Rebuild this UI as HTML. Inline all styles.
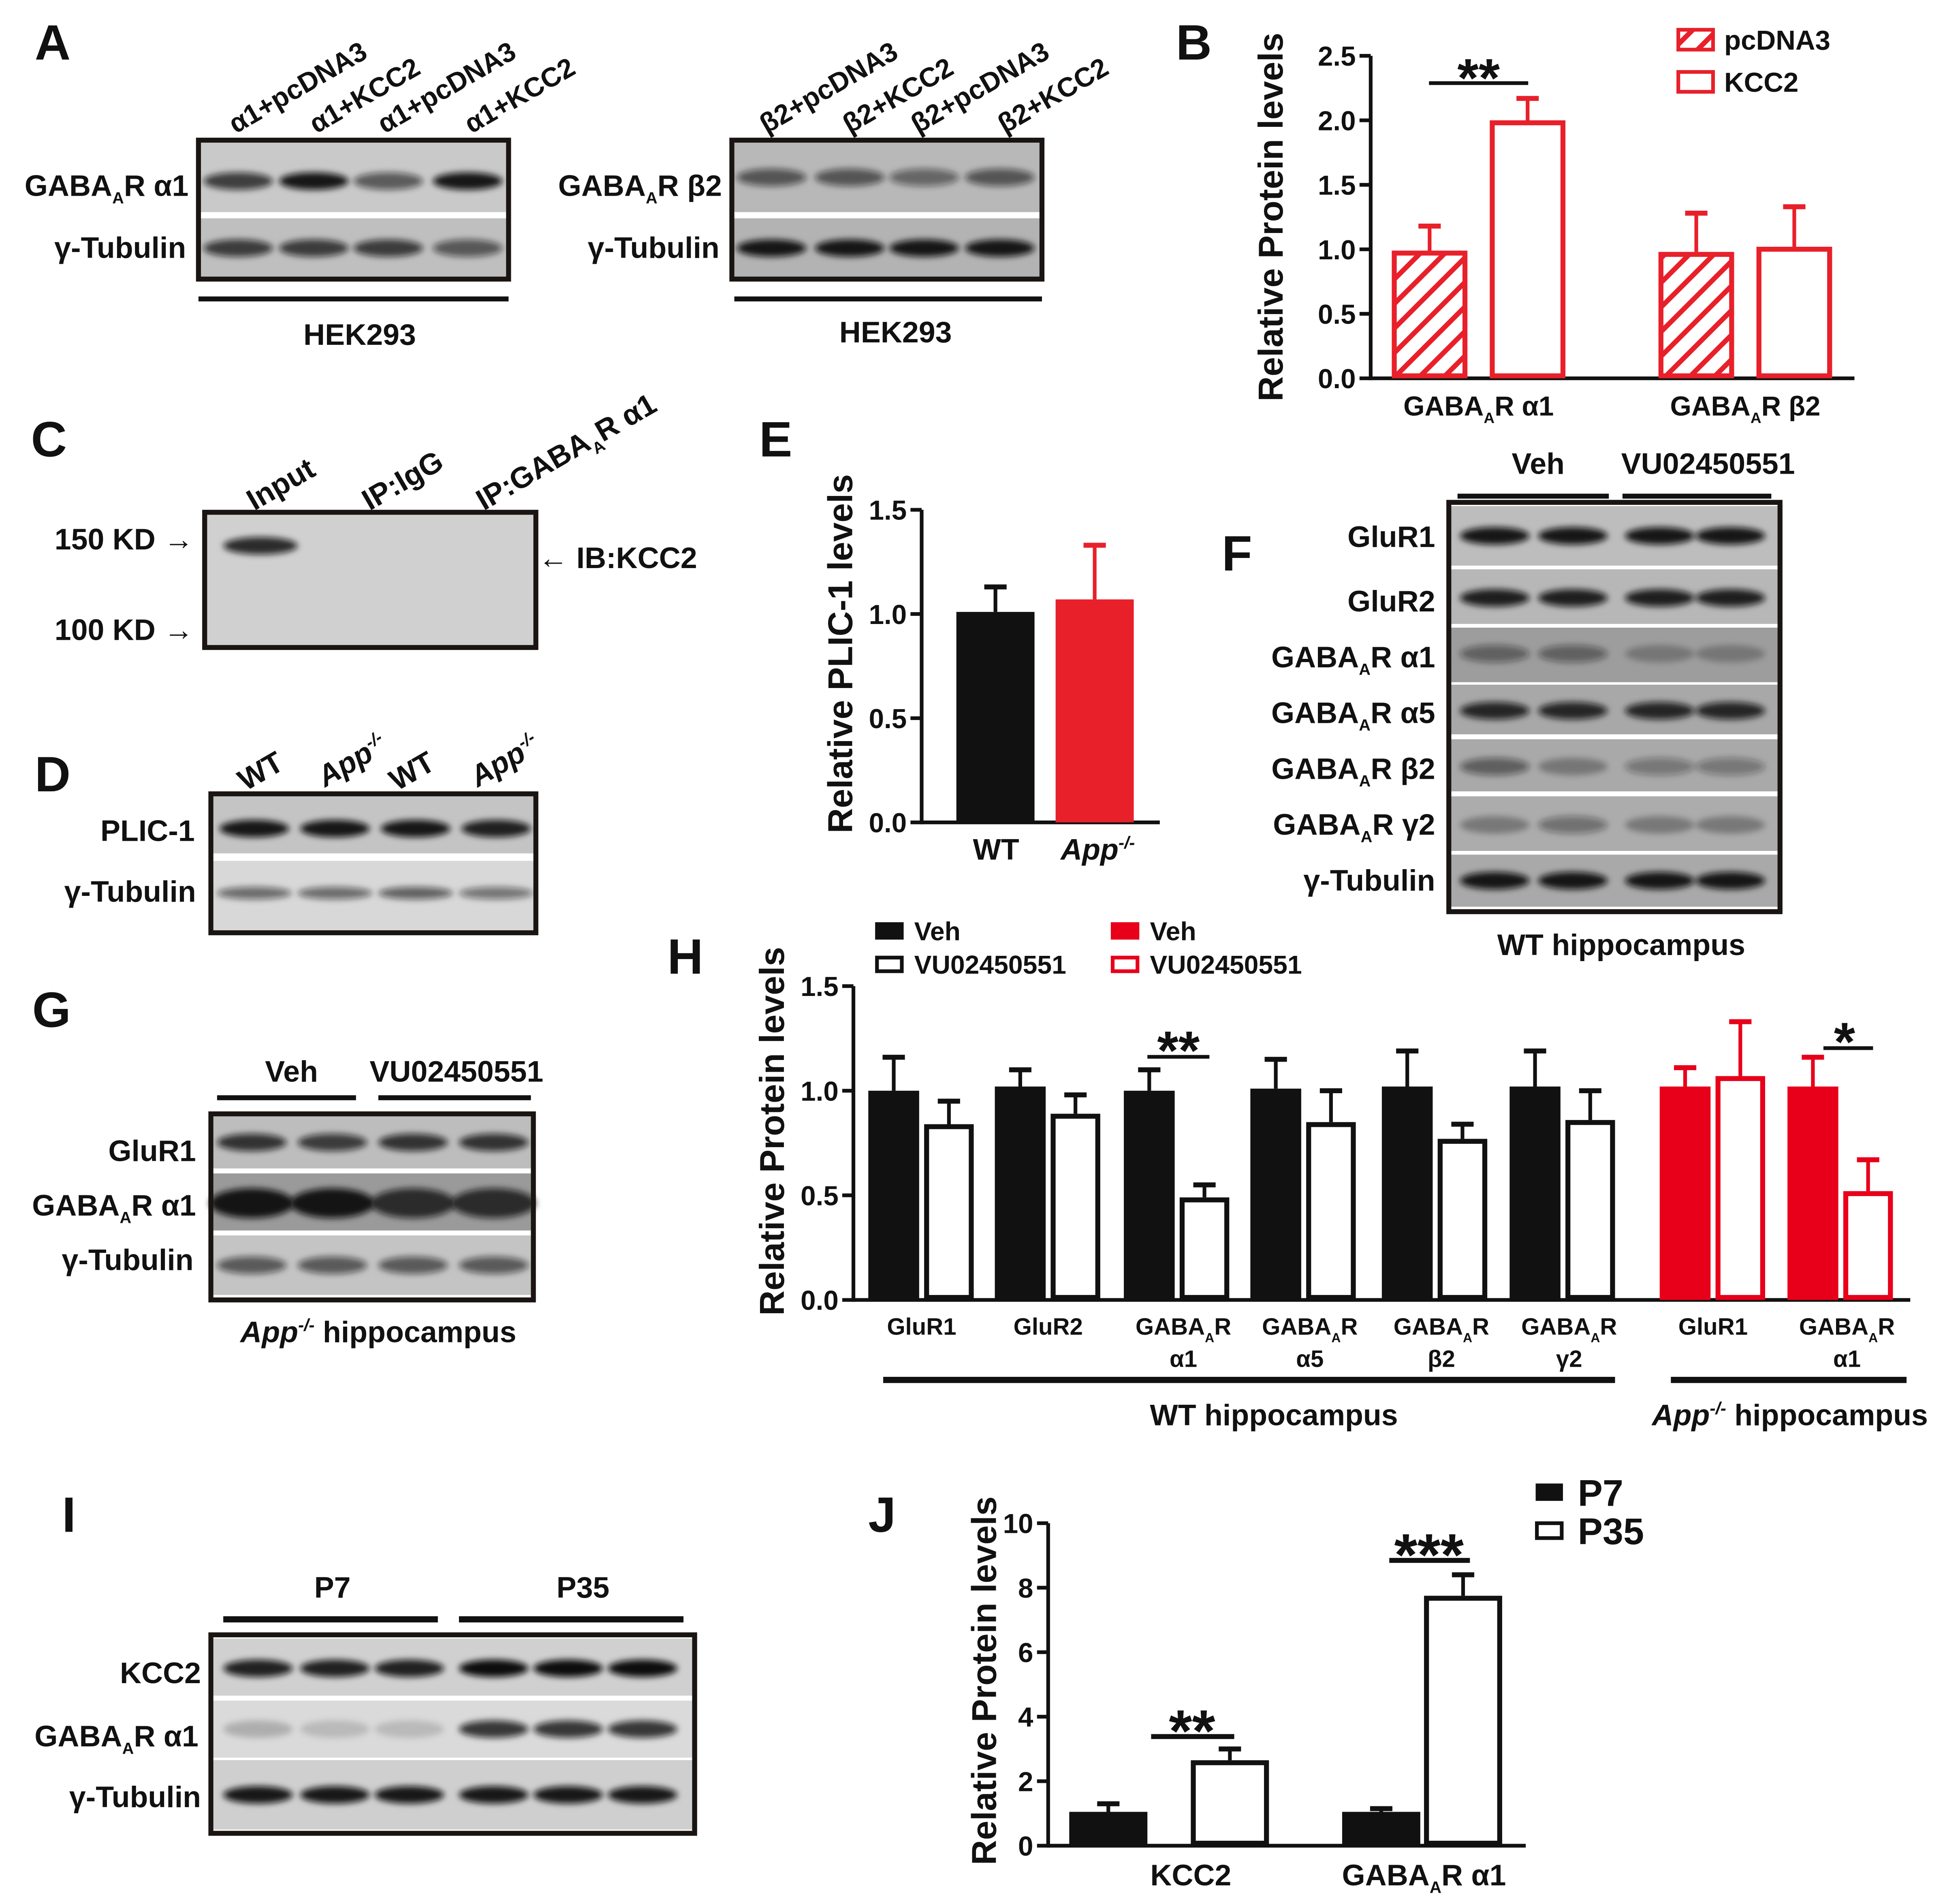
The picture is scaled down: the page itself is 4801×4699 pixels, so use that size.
<!DOCTYPE html>
<html><head><meta charset="utf-8"><style>
html,body{margin:0;padding:0;background:#fff;}
svg{display:block;}
text{font-family:"Liberation Sans",sans-serif;font-weight:bold;fill:#111;}
</style></head><body>
<svg id="fig" xmlns="http://www.w3.org/2000/svg" width="4801" height="4699" viewBox="0 0 1568 1535" preserveAspectRatio="none">
<defs>
<filter id="blur" x="-20%" y="-100%" width="140%" height="300%"><feGaussianBlur stdDeviation="2.5"/></filter>
<pattern id="hatch" patternUnits="userSpaceOnUse" width="14" height="14" patternTransform="rotate(45)"><rect width="14" height="14" fill="#fff"/><rect x="0" y="0" width="4" height="14" fill="#e8202a"/></pattern>
</defs>
<g style="font-size:40px">
<text x="28" y="48" font-size="40">A</text>
<text x="948" y="48" font-size="40">B</text>
<text x="25" y="368" font-size="40">C</text>
<text x="28" y="638" font-size="40">D</text>
<text x="612" y="368" font-size="40">E</text>
<text x="985" y="460" font-size="40">F</text>
<text x="26" y="828" font-size="40">G</text>
<text x="538" y="785" font-size="40">H</text>
<text x="50" y="1235" font-size="40">I</text>
<text x="700" y="1235" font-size="40">J</text>
</g>
<g id="blots"></g>
<g id="static" font-size="24">
<g font-size="22">
<text transform="translate(190,108) rotate(-30)">α1+pcDNA3</text>
<text transform="translate(255,108) rotate(-30)">α1+KCC2</text>
<text transform="translate(310,108) rotate(-30)">α1+pcDNA3</text>
<text transform="translate(380,108) rotate(-30)">α1+KCC2</text>
<text transform="translate(618,108) rotate(-30)">β2+pcDNA3</text>
<text transform="translate(685,108) rotate(-30)">β2+KCC2</text>
<text transform="translate(740,108) rotate(-30)">β2+pcDNA3</text>
<text transform="translate(810,108) rotate(-30)">β2+KCC2</text>
</g>
<text x="152" y="158" text-anchor="end">GABA<tspan font-size="13" dy="6">A</tspan><tspan dy="-6">R α1</tspan></text>
<text x="150" y="208" text-anchor="end">γ-Tubulin</text>
<text x="582" y="158" text-anchor="end">GABA<tspan font-size="13" dy="6">A</tspan><tspan dy="-6">R β2</tspan></text>
<text x="580" y="208" text-anchor="end">γ-Tubulin</text>
<rect x="160" y="239" width="250" height="4" fill="#111"/>
<rect x="592" y="239" width="248" height="4" fill="#111"/>
<text x="290" y="278" text-anchor="middle">HEK293</text>
<text x="722" y="276" text-anchor="middle">HEK293</text>
<text transform="translate(205,412) rotate(-30)">Input</text>
<text transform="translate(298,412) rotate(-30)">IP:IgG</text>
<text transform="translate(390,412) rotate(-30)">IP:GABA<tspan font-size="13" dy="6">A</tspan><tspan dy="-6">R α1</tspan></text>
<text x="44" y="443">150 KD →</text>
<text x="44" y="516">100 KD →</text>
<text x="434" y="458">← IB:KCC2</text>
<text transform="translate(198,638) rotate(-30)">WT</text>
<text transform="translate(262,635) rotate(-30)" font-style="italic">App<tspan font-size="14" dy="-9">-/-</tspan></text>
<text transform="translate(320,638) rotate(-30)">WT</text>
<text transform="translate(385,635) rotate(-30)" font-style="italic">App<tspan font-size="14" dy="-9">-/-</tspan></text>
<text x="157" y="678" text-anchor="end">PLIC-1</text>
<text x="158" y="727" text-anchor="end">γ-Tubulin</text>
<rect x="1175" y="398" width="122" height="4" fill="#111"/>
<rect x="1308" y="398" width="120" height="4" fill="#111"/>
<text x="1240" y="382" text-anchor="middle">Veh</text>
<text x="1377" y="382" text-anchor="middle">VU02450551</text>
<text x="1157" y="441" text-anchor="end">GluR1</text>
<text x="1157" y="493" text-anchor="end">GluR2</text>
<text x="1157" y="538" text-anchor="end">GABA<tspan font-size="13" dy="6">A</tspan><tspan dy="-6">R α1</tspan></text>
<text x="1157" y="583" text-anchor="end">GABA<tspan font-size="13" dy="6">A</tspan><tspan dy="-6">R α5</tspan></text>
<text x="1157" y="628" text-anchor="end">GABA<tspan font-size="13" dy="6">A</tspan><tspan dy="-6">R β2</tspan></text>
<text x="1157" y="673" text-anchor="end">GABA<tspan font-size="13" dy="6">A</tspan><tspan dy="-6">R γ2</tspan></text>
<text x="1157" y="718" text-anchor="end">γ-Tubulin</text>
<text x="1307" y="770" text-anchor="middle">WT hippocampus</text>
<rect x="175" y="883" width="112" height="4" fill="#111"/>
<rect x="305" y="883" width="123" height="4" fill="#111"/>
<text x="235" y="872" text-anchor="middle">Veh</text>
<text x="368" y="872" text-anchor="middle">VU02450551</text>
<text x="158" y="936" text-anchor="end">GluR1</text>
<text x="158" y="980" text-anchor="end">GABA<tspan font-size="13" dy="6">A</tspan><tspan dy="-6">R α1</tspan></text>
<text x="156" y="1024" text-anchor="end">γ-Tubulin</text>
<text x="305" y="1082" text-anchor="middle"><tspan font-style="italic">App</tspan><tspan font-size="14" dy="-9" font-style="italic">-/-</tspan><tspan dy="9"> hippocampus</tspan></text>
<rect x="180" y="1303" width="173" height="5" fill="#111"/>
<rect x="370" y="1303" width="181" height="5" fill="#111"/>
<text x="268" y="1288" text-anchor="middle">P7</text>
<text x="470" y="1288" text-anchor="middle">P35</text>
<text x="162" y="1357" text-anchor="end">KCC2</text>
<text x="160" y="1408" text-anchor="end">GABA<tspan font-size="13" dy="6">A</tspan><tspan dy="-6">R α1</tspan></text>
<text x="162" y="1457" text-anchor="end">γ-Tubulin</text>
</g>
<g id="charts"></g>
</svg>
<script>
const NS="http://www.w3.org/2000/svg";
function mk(tag,attrs,parent){const e=document.createElementNS(NS,tag);for(const k in attrs)e.setAttribute(k,attrs[k]);parent.appendChild(e);return e;}
// ---------- Panel B data ----------
const bCategories=["GABAAR α1","GABAAR β2"];
const bSeries=["pcDNA3","KCC2"];
const bPcdna=[0.99,0.98];
const bPcdnaErr=[0.19,0.30];
const bKcc2=[2.0,1.02];
const bKcc2Err=[0.17,0.31];
const bTicks=["0.0","0.5","1.0","1.5","2.0","2.5"];
// ---------- Panel E data ----------
const eCategories=["WT","App-/-"];
const eValues=[1.01,1.07];
const eErr=[0.12,0.26];
const eTicks=["0.0","0.5","1.0","1.5"];
// ---------- Panel H data ----------
const hCategories=["GluR1","GluR2","GABAAR α1","GABAAR α5","GABAAR β2","GABAAR γ2","GluR1","GABAAR α1"];
const hGroup=["WT","WT","WT","WT","WT","WT","App","App"];
const hVeh=[1.0,1.02,1.0,1.01,1.02,1.02,1.02,1.02];
const hVehErr=[0.16,0.08,0.10,0.14,0.17,0.17,0.09,0.14];
const hVU=[0.84,0.89,0.49,0.85,0.77,0.86,1.07,0.52];
const hVUErr=[0.11,0.09,0.06,0.15,0.07,0.14,0.26,0.15];
const hTicks=["0.0","0.5","1.0","1.5"];
// ---------- Panel J data ----------
const jCategories=["KCC2","GABAAR α1"];
const jP7=[1.05,1.05];
const jP7Err=[0.25,0.10];
const jP35=[2.65,7.75];
const jP35Err=[0.35,0.65];
const jTicks=["0","2","4","6","8","10"];

const charts=document.getElementById('charts');
const blots=document.getElementById('blots');

function blot(name,x,y,w,h,rows,lanes,border){
  const g=mk('g',{},blots);
  
  
  mk('rect',{x:x,y:y,width:w,height:h,fill:'#fff'},g);
  rows.forEach(r=>{
    const rr=mk('rect',{x:x,y:r[0],width:w,height:r[1],fill:r[2]},g);
    
    
    lanes.forEach((lx,i)=>{
      const d=r[4][i]; if(d<=0) return;
      const b=mk('ellipse',{cx:lx,cy:r[3],rx:r[5]||28,ry:r[6]||7,fill:'#111','fill-opacity':d,filter:'url(#blur)'},g);
      
      
    });
  });
  mk('rect',{x:x,y:y,width:w,height:h,fill:'none',stroke:'#1a1412','stroke-width':border||4},g);
}
blot('blot-a-alpha1',160,113,250,112,[[115,56,'#c9c9c9',146,[0.75,0.95,0.6,0.95]],[176,48,'#bfbfbf',200,[0.75,0.75,0.75,0.6]]],[192,253,313,377]);
blot('blot-a-beta2',590,113,250,112,[[115,56,'#b8b8b8',143,[0.6,0.6,0.5,0.6]],[176,48,'#b3b3b3',200,[0.95,0.95,0.95,0.95]]],[622,685,745,806]);
blot('blot-c-ip',165,413,267,109,[[415,105,'#d0d0d0',440,[0.85,0,0],30,7]],[210,300,390]);
blot('blot-d-plic1',170,640,262,112,[[642,46,'#c4c4c4',668,[0.95,0.95,0.95,0.9]],[694,56,'#d8d8d8',720,[0.55,0.55,0.6,0.5],30,5]],[205,270,335,400]);
blot('blot-f-wt',1168,405,267,330,[
  [408,48,'#bdbdbd',432,[0.95,0.95,0.95,0.95]],
  [459,44,'#b7b7b7',482,[0.9,0.9,0.9,0.9]],
  [506,44,'#9d9d9d',527,[0.45,0.45,0.25,0.25]],
  [552,40,'#a8a8a8',573,[0.85,0.85,0.85,0.85]],
  [596,42,'#a9a9a9',618,[0.5,0.3,0.35,0.35]],
  [642,44,'#acacac',665,[0.3,0.4,0.3,0.3]],
  [689,42,'#a9a9a9',710,[0.95,0.95,0.95,0.95]]],[1205,1268,1338,1395]);
blot('blot-g-app',170,898,260,150,[[900,42,'#bdbdbd',921,[0.8,0.75,0.8,0.8]],[946,46,'#9a9a9a',970,[0.95,0.95,0.8,0.8],34,12],[996,48,'#c4c4c4',1020,[0.6,0.6,0.6,0.6]]],[203,268,333,398]);
blot('blot-i-dev',170,1318,390,160,[[1321,46,'#d0d0d0',1345,[0.9,0.9,0.9,1,1,1]],[1371,46,'#dadada',1394,[0.2,0.15,0.15,0.8,0.8,0.8]],[1419,56,'#cfcfcf',1447,[0.95,0.95,0.95,0.95,0.95,0.95]]],[208,270,330,398,458,518]);

function yAxis(name,x,y0,y1,ticks,max,fs){
  const g=mk('g',{},charts);
  
  
  mk('line',{x1:x,y1:y0+1.5,x2:x,y2:y1,stroke:'#111','stroke-width':3},g);
  ticks.forEach(t=>{
    const v=parseFloat(t); const yy=y0-(y0-y1)*v/max;
    mk('line',{x1:x-9,y1:yy,x2:x,y2:yy,stroke:'#111','stroke-width':3},g);
    const tx=mk('text',{x:x-12,y:yy+8,'text-anchor':'end','font-size':fs||22},g);
    tx.textContent=t;
    
    
  });
}
function bar(name,x,w,v,err,y0,y1,max,fill,stroke,sw){
  const sc=(y0-y1)/max;
  const top=y0-v*sc, et=y0-(v+err)*sc;
  mk('line',{x1:x+w/2,y1:top,x2:x+w/2,y2:et,stroke:stroke,'stroke-width':3},charts);
  mk('line',{x1:x+w/2-9,y1:et,x2:x+w/2+9,y2:et,stroke:stroke,'stroke-width':4},charts);
  const r=mk('rect',{x:x+sw/2,y:top+sw/2,width:w-sw,height:Math.max(0,v*sc-sw),fill:fill,stroke:stroke,'stroke-width':sw},charts);
  if(sw===0){r.setAttribute('x',x);r.setAttribute('y',top);r.setAttribute('width',w);r.setAttribute('height',v*sc);}
  
  
}
function gaba(parent,x,y,suffix,fs,anchor){
  const t=mk('text',{x:x,y:y,'text-anchor':anchor||'middle','font-size':fs},parent);
  t.innerHTML='GABA<tspan font-size="'+(fs*0.55)+'" dy="6">A</tspan><tspan dy="-6">R'+suffix+'</tspan>';
  return t;
}

// ---------- Panel B ----------
{
  const y0=305,y1=45,max=2.5;
  yAxis('b-y-axis',1105,y0,y1,bTicks,max,22);
  mk('line',{x1:1105,y1:y0,x2:1495,y2:y0,stroke:'#111','stroke-width':3},charts);
  const cx=[1192,1407];
  bCategories.forEach((c,i)=>{
    bar('b-bar-pcdna3-'+i,cx[i]-70,61,bPcdna[i],bPcdnaErr[i],y0,y1,max,'url(#hatch)','#e8202a',4);
    bar('b-bar-kcc2-'+i,cx[i]+9,61,bKcc2[i],bKcc2Err[i],y0,y1,max,'#fff','#e8202a',4);
    const t=gaba(charts,cx[i],335,c.endsWith('α1')?' α1':' β2',22);
    
    
  });
  const yt=mk('text',{transform:'translate(1034,175) rotate(-90)','text-anchor':'middle','font-size':28},charts);
  yt.textContent='Relative Protein levels';
  
  
  mk('line',{x1:1152,y1:67,x2:1232,y2:67,stroke:'#111','stroke-width':3},charts);
  const st=mk('text',{x:1192,y:78,'text-anchor':'middle','font-size':44},charts);st.textContent='**';
  const l1=mk('rect',{x:1353,y:24,width:28,height:16,fill:'url(#hatch)',stroke:'#e8202a','stroke-width':3},charts);
  
  
  const l2=mk('rect',{x:1353,y:58,width:28,height:16,fill:'#fff',stroke:'#e8202a','stroke-width':3},charts);
  
  
  let t=mk('text',{x:1390,y:40,'font-size':22},charts);t.textContent=bSeries[0];
  t=mk('text',{x:1390,y:74,'font-size':22},charts);t.textContent=bSeries[1];
}
// ---------- Panel E ----------
{
  const y0=663,y1=411,max=1.5;
  yAxis('e-y-axis',743,y0,y1,eTicks,max,22);
  mk('line',{x1:743,y1:y0,x2:935,y2:y0,stroke:'#111','stroke-width':3},charts);
  const cols=['#111','#e8202a'],cx=[803,883];
  eCategories.forEach((c,i)=>{
    bar('e-bar-'+i,cx[i]-32,63,eValues[i],eErr[i],y0,y1,max,cols[i],cols[i],0);
  });
  let t=mk('text',{x:803,y:693,'text-anchor':'middle','font-size':24},charts);t.textContent=eCategories[0];
  t=mk('text',{x:885,y:693,'text-anchor':'middle','font-size':24,'font-style':'italic'},charts);t.innerHTML='App<tspan font-size="14" dy="-9">-/-</tspan>';
  const yt=mk('text',{transform:'translate(687,527) rotate(-90)','text-anchor':'middle','font-size':28},charts);
  yt.textContent='Relative PLIC-1 levels';
  
  
}
// ---------- Panel H ----------
{
  const y0=1048,y1=795,max=1.5;
  yAxis('h-y-axis',688,y0,y1,hTicks,max,22);
  mk('line',{x1:688,y1:y0,x2:1540,y2:y0,stroke:'#111','stroke-width':3},charts);
  const xs=[700,802,906,1008,1114,1217,1338,1441];
  hCategories.forEach((c,i)=>{
    const col=hGroup[i]==='WT'?'#111':'#e8001a';
    bar('h-bar-veh-'+i,xs[i],41,hVeh[i],hVehErr[i],y0,y1,max,col,col,0);
    bar('h-bar-vu-'+i,xs[i]+45,40,hVU[i],hVUErr[i],y0,y1,max,'#fff',col,4);
    const cx=xs[i]+43;
    if(c.startsWith('GABA')){
      const t=gaba(charts,cx+5,1076,'',19);
      
      
      const s=mk('text',{x:cx+5,y:1102,'text-anchor':'middle','font-size':19},charts);s.textContent=c.split(' ')[1];
    } else {
      const t=mk('text',{x:cx,y:1076,'text-anchor':'middle','font-size':19},charts);t.textContent=c;
      
      
    }
  });
  mk('rect',{x:712,y:1110,width:590,height:5,fill:'#111'},charts);
  mk('rect',{x:1347,y:1110,width:190,height:5,fill:'#111'},charts);
  let t=mk('text',{x:1027,y:1149,'text-anchor':'middle','font-size':24},charts);t.textContent='WT hippocampus';
  t=mk('text',{x:1443,y:1149,'text-anchor':'middle','font-size':24},charts);t.innerHTML='<tspan font-style="italic">App</tspan><tspan font-size="14" dy="-9" font-style="italic">-/-</tspan><tspan dy="9"> hippocampus</tspan>';
  const yt=mk('text',{transform:'translate(632,912) rotate(-90)','text-anchor':'middle','font-size':28},charts);
  yt.textContent='Relative Protein levels';
  
  
  mk('line',{x1:925,y1:852,x2:975,y2:852,stroke:'#111','stroke-width':3},charts);
  t=mk('text',{x:950,y:862,'text-anchor':'middle','font-size':44},charts);t.textContent='**';
  mk('line',{x1:1470,y1:845,x2:1510,y2:845,stroke:'#111','stroke-width':3},charts);
  t=mk('text',{x:1487,y:855,'text-anchor':'middle','font-size':44},charts);t.textContent='*';
  const leg=[[705,743,'#111','#111','Veh'],[705,770,'#fff','#111','VU02450551'],[895,743,'#e8001a','#e8001a','Veh'],[895,770,'#fff','#e8001a','VU02450551']];
  leg.forEach(l=>{
    const r=mk('rect',{x:l[0]+2,y:l[1]+2,width:20,height:11,fill:l[2],stroke:l[3],'stroke-width':3},charts);
    
    
    const tt=mk('text',{x:l[0]+32,y:l[1]+15,'font-size':21},charts);tt.textContent=l[4];
  });
}
// ---------- Panel J ----------
{
  const y0=1488,y1=1228,max=10;
  yAxis('j-y-axis',845,y0,y1,jTicks,max,22);
  mk('line',{x1:845,y1:y0,x2:1230,y2:y0,stroke:'#111','stroke-width':3},charts);
  const xs=[862,1082];
  jCategories.forEach((c,i)=>{
    bar('j-bar-p7-'+i,xs[i],63,jP7[i],jP7Err[i],y0,y1,max,'#111','#111',0);
    bar('j-bar-p35-'+i,xs[i]+(i===0?98:66),63,jP35[i],jP35Err[i],y0,y1,max,'#fff','#111',4);
  });
  let t=mk('text',{x:960,y:1520,'text-anchor':'middle','font-size':24},charts);t.textContent=jCategories[0];
  t=gaba(charts,1148,1520,' α1',24);
  
  
  const yt=mk('text',{transform:'translate(803,1355) rotate(-90)','text-anchor':'middle','font-size':28},charts);
  yt.textContent='Relative Protein levels';
  
  
  mk('line',{x1:928,y1:1400,x2:995,y2:1400,stroke:'#111','stroke-width':4},charts);
  t=mk('text',{x:961,y:1412,'text-anchor':'middle','font-size':48},charts);t.textContent='**';
  mk('line',{x1:1120,y1:1258,x2:1185,y2:1258,stroke:'#111','stroke-width':4},charts);
  t=mk('text',{x:1152,y:1270,'text-anchor':'middle','font-size':48},charts);t.textContent='***';
  let r=mk('rect',{x:1238,y:1196,width:22,height:14,fill:'#111'},charts);
  
  
  r=mk('rect',{x:1239,y:1228,width:20,height:12,fill:'#fff',stroke:'#111','stroke-width':3},charts);
  
  
  t=mk('text',{x:1272,y:1214,'font-size':30},charts);t.textContent='P7';
  t=mk('text',{x:1272,y:1245,'font-size':30},charts);t.textContent='P35';
}
</script>
</body></html>
